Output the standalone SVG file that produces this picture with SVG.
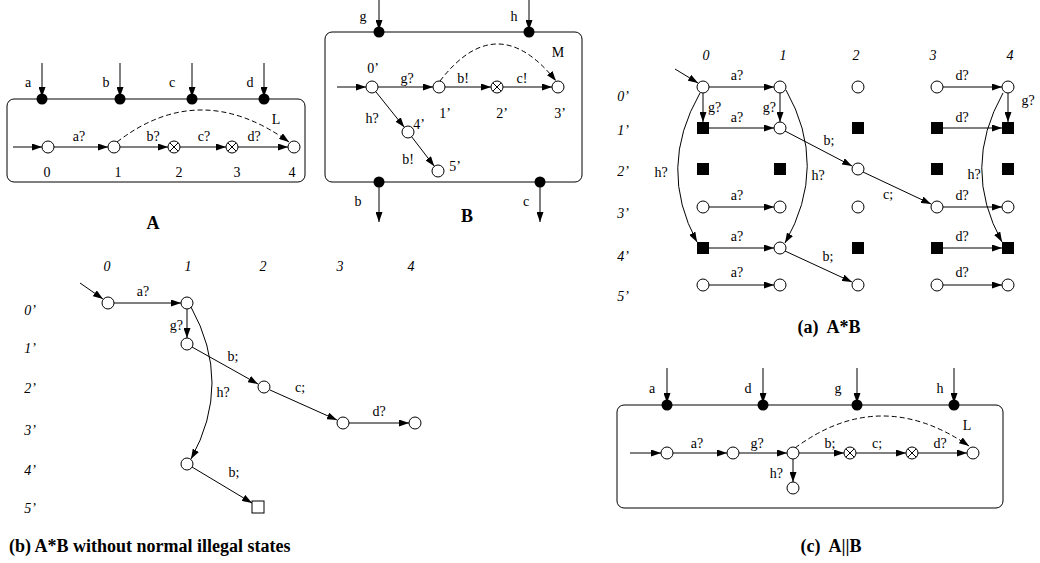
<svg xmlns="http://www.w3.org/2000/svg" width="1040" height="563" viewBox="0 0 1040 563">
<defs>
<marker id="ah" viewBox="0 0 10 7" refX="10" refY="3.5" markerWidth="10" markerHeight="7" orient="auto" markerUnits="userSpaceOnUse"><path d="M0,0 L10,3.5 L0,7 z" fill="#000"/></marker>
<g id="xc"><circle class="s" cx="0" cy="0" r="6"/><path class="x" d="M-4.2,-4.2 L4.2,4.2 M4.2,-4.2 L-4.2,4.2"/></g>
</defs>
<style>
.e{stroke:#000;stroke-width:1;fill:none;marker-end:url(#ah)}
.d{stroke:#000;stroke-width:1;fill:none;stroke-dasharray:5 3;marker-end:url(#ah)}
.s{fill:#fff;stroke:#000;stroke-width:1}
.x{stroke:#000;stroke-width:1;fill:none}
.bl{fill:#000}
.box{fill:none;stroke:#000;stroke-width:1}
.p{fill:#000}
text{font-family:"Liberation Serif","Times New Roman",serif;font-size:14px;fill:#000;text-anchor:middle}
.i{font-style:italic}
.cap{font-weight:bold;font-size:18px}
.st{text-anchor:start}
.en{text-anchor:end}
</style>
<rect width="1040" height="563" fill="#fff"/>

<!-- ===== Panel A ===== -->
<g id="A-box"><rect class="box" x="7" y="99" width="298" height="83" rx="7"/></g>
<g id="A-port-a"><circle class="p" cx="42" cy="99" r="5.5"/><text x="28" y="87">a</text></g>
<g id="A-port-b"><circle class="p" cx="120" cy="99" r="5.5"/><text x="106" y="87">b</text></g>
<g id="A-port-c"><circle class="p" cx="192" cy="99" r="5.5"/><text x="172" y="87">c</text></g>
<g id="A-port-d"><circle class="p" cx="264" cy="99" r="5.5"/><text x="250" y="87">d</text></g>
<g id="A-s0"><circle class="s" cx="48" cy="147" r="6"/><text x="47" y="177">0</text></g>
<g id="A-s1"><circle class="s" cx="114" cy="147" r="6"/><text x="118" y="177">1</text></g>
<g id="A-s2"><use href="#xc" x="174" y="147"/><text x="179" y="177">2</text></g>
<g id="A-s3"><use href="#xc" x="232" y="147"/><text x="237" y="177">3</text></g>
<g id="A-s4"><circle class="s" cx="294" cy="147" r="6"/><text x="292" y="177">4</text></g>
<text class="cap" x="153" y="229">A</text>

<!-- ===== Panel B ===== -->
<g id="B-box"><rect class="box" x="325" y="32" width="257" height="150" rx="7"/></g>
<g id="B-port-g"><circle class="p" cx="379" cy="32" r="5.5"/><text x="363" y="21">g</text></g>
<g id="B-port-h"><circle class="p" cx="529" cy="32" r="5.5"/><text x="514" y="21">h</text></g>
<g id="B-port-b"><circle class="p" cx="379" cy="182" r="5.5"/><text x="358" y="206">b</text></g>
<g id="B-port-c"><circle class="p" cx="540" cy="182" r="5.5"/><text x="526" y="206">c</text></g>
<g id="B-s0"><circle class="s" cx="372" cy="87" r="6"/><text x="373" y="73">0’</text></g>
<g id="B-s1"><circle class="s" cx="439" cy="87" r="6"/><text x="445" y="118">1’</text></g>
<g id="B-s2"><use href="#xc" x="497" y="87"/><text x="502" y="118">2’</text></g>
<g id="B-s3"><circle class="s" cx="558" cy="87" r="6"/><text x="560" y="118">3’</text></g>
<g id="B-s4"><circle class="s" cx="408" cy="132" r="6"/><text x="419" y="129">4’</text></g>
<g id="B-s5"><circle class="s" cx="438" cy="171" r="6"/><text x="455" y="171">5’</text></g>
<text class="cap" x="467" y="222">B</text>

<!-- ===== Panel (a) ===== -->
<g id="a-headers" class="i">
<text class="i" x="706" y="60">0</text><text class="i" x="783" y="60">1</text><text class="i" x="856" y="60">2</text><text class="i" x="933" y="60">3</text><text class="i" x="1010" y="60">4</text>
<text class="i" x="623" y="101">0’</text><text class="i" x="623" y="135">1’</text><text class="i" x="623" y="176">2’</text><text class="i" x="623" y="218">3’</text><text class="i" x="623" y="261">4’</text><text class="i" x="623" y="301">5’</text>
</g>
<!-- row 0' -->
<g id="a-0-0"><circle class="s" cx="703" cy="87" r="6"/></g>
<g id="a-1-0"><circle class="s" cx="780" cy="87" r="6"/></g>
<g id="a-2-0"><circle class="s" cx="858" cy="87" r="6"/></g>
<g id="a-3-0"><circle class="s" cx="937" cy="87" r="6"/></g>
<g id="a-4-0"><circle class="s" cx="1008" cy="87" r="6"/></g>
<!-- row 1' -->
<g id="a-0-1"><rect class="bl" x="697" y="122" width="12" height="12"/></g>
<g id="a-1-1"><circle class="s" cx="780" cy="128" r="6"/></g>
<g id="a-2-1"><rect class="bl" x="852" y="122" width="12" height="12"/></g>
<g id="a-3-1"><rect class="bl" x="931" y="122" width="12" height="12"/></g>
<g id="a-4-1"><rect class="bl" x="1002" y="122" width="12" height="12"/></g>
<!-- row 2' -->
<g id="a-0-2"><rect class="bl" x="697" y="163" width="12" height="12"/></g>
<g id="a-1-2"><rect class="bl" x="774" y="163" width="12" height="12"/></g>
<g id="a-2-2"><circle class="s" cx="858" cy="169" r="6"/></g>
<g id="a-3-2"><rect class="bl" x="931" y="163" width="12" height="12"/></g>
<g id="a-4-2"><rect class="bl" x="1002" y="163" width="12" height="12"/></g>
<!-- row 3' -->
<g id="a-0-3"><circle class="s" cx="703" cy="207" r="6"/></g>
<g id="a-1-3"><circle class="s" cx="780" cy="207" r="6"/></g>
<g id="a-2-3"><circle class="s" cx="858" cy="207" r="6"/></g>
<g id="a-3-3"><circle class="s" cx="937" cy="207" r="6"/></g>
<g id="a-4-3"><circle class="s" cx="1008" cy="207" r="6"/></g>
<!-- row 4' -->
<g id="a-0-4"><rect class="bl" x="697" y="242" width="12" height="12"/></g>
<g id="a-1-4"><circle class="s" cx="780" cy="248" r="6"/></g>
<g id="a-2-4"><rect class="bl" x="852" y="242" width="12" height="12"/></g>
<g id="a-3-4"><rect class="bl" x="931" y="242" width="12" height="12"/></g>
<g id="a-4-4"><rect class="bl" x="1002" y="242" width="12" height="12"/></g>
<!-- row 5' -->
<g id="a-0-5"><circle class="s" cx="703" cy="285" r="6"/></g>
<g id="a-1-5"><circle class="s" cx="780" cy="285" r="6"/></g>
<g id="a-2-5"><circle class="s" cx="858" cy="285" r="6"/></g>
<g id="a-3-5"><circle class="s" cx="937" cy="285" r="6"/></g>
<g id="a-4-5"><circle class="s" cx="1008" cy="285" r="6"/></g>
<text class="cap" x="829" y="333" xml:space="preserve">(a)  A*B</text>

<!-- ===== Panel (b) ===== -->
<g id="b-headers">
<text class="i" x="107" y="271">0</text><text class="i" x="188" y="271">1</text><text class="i" x="263" y="271">2</text><text class="i" x="340" y="271">3</text><text class="i" x="411" y="271">4</text>
<text class="i" x="30" y="315">0’</text><text class="i" x="30" y="353">1’</text><text class="i" x="30" y="393">2’</text><text class="i" x="30" y="435">3’</text><text class="i" x="30" y="475">4’</text><text class="i" x="30" y="513">5’</text>
</g>
<g id="b-0-0"><circle class="s" cx="108" cy="303" r="6"/></g>
<g id="b-1-0"><circle class="s" cx="187" cy="303" r="6"/></g>
<g id="b-1-1"><circle class="s" cx="187" cy="344" r="6"/></g>
<g id="b-2-2"><circle class="s" cx="264" cy="387" r="6"/></g>
<g id="b-3-3"><circle class="s" cx="343" cy="423" r="6"/></g>
<g id="b-4-3"><circle class="s" cx="415" cy="423" r="6"/></g>
<g id="b-1-4"><circle class="s" cx="187" cy="464" r="6"/></g>
<g id="b-2-5"><rect class="s" x="252" y="501" width="12" height="12"/></g>
<text class="cap st" x="9" y="552">(b) A*B without normal illegal states</text>

<!-- ===== Panel (c) ===== -->
<g id="c-box"><rect class="box" x="617" y="405" width="386" height="103" rx="7"/></g>
<g id="c-port-a"><circle class="p" cx="667" cy="405" r="5.5"/><text x="652" y="393">a</text></g>
<g id="c-port-d"><circle class="p" cx="763" cy="405" r="5.5"/><text x="748" y="393">d</text></g>
<g id="c-port-g"><circle class="p" cx="857" cy="405" r="5.5"/><text x="838" y="393">g</text></g>
<g id="c-port-h"><circle class="p" cx="954" cy="405" r="5.5"/><text x="940" y="393">h</text></g>
<g id="c-s0"><circle class="s" cx="667" cy="453" r="6"/></g>
<g id="c-s1"><circle class="s" cx="733" cy="453" r="6"/></g>
<g id="c-s2"><circle class="s" cx="793" cy="453" r="6"/></g>
<g id="c-s3"><use href="#xc" x="850" y="453"/></g>
<g id="c-s4"><use href="#xc" x="912" y="453"/></g>
<g id="c-s5"><circle class="s" cx="973" cy="453" r="6"/></g>
<g id="c-s6"><circle class="s" cx="793" cy="488" r="6"/></g>
<text class="cap" x="831" y="552" xml:space="preserve">(c)  A||B</text>

<!-- ===== Connectors ===== -->
<g id="connectors">
<!-- A -->
<path class="e" d="M42,63 V97"/><path class="e" d="M120,63 V97"/><path class="e" d="M192,63 V97"/><path class="e" d="M264,63 V97"/>
<path class="e" d="M13,147 H42"/>
<path class="e" d="M54,147 H108"/><text x="79" y="141">a?</text>
<path class="e" d="M120,147 H168"/><text x="153" y="141">b?</text>
<path class="e" d="M180,147 H226"/><text x="204" y="141">c?</text>
<path class="e" d="M238,147 H288"/><text x="254" y="141">d?</text>
<path class="d" d="M117,142 Q200,78 289,142"/><text x="276" y="124">L</text>
<!-- B -->
<path class="e" d="M379,0 V30"/><path class="e" d="M529,0 V30"/>
<path class="e" d="M379,182 V222"/><path class="e" d="M540,182 V222"/>
<path class="e" d="M337,87 H366"/>
<path class="e" d="M378,87 H433"/><text x="407" y="83">g?</text>
<path class="e" d="M445,87 H491"/><text x="463" y="83">b!</text>
<path class="e" d="M503,87 H552"/><text x="522" y="83">c!</text>
<path class="e" d="M375.8,91.7 L404.3,127.3"/><text x="372" y="123">h?</text>
<path class="e" d="M411.7,136.8 L434.3,166.2"/><text x="408" y="164">b!</text>
<path class="d" d="M440,81 Q497,7 556,81"/><text x="558" y="57">M</text>
<!-- (a) -->
<path class="e" d="M675,69 L698,83"/>
<path class="e" d="M709,87 H774"/><text x="737" y="80">a?</text>
<path class="e" d="M703,93 V122"/><text class="st" x="708" y="112">g?</text>
<path class="e" d="M780,93 V122"/><text class="en" x="776" y="112">g?</text>
<path class="e" d="M709,128 H774"/><text x="737" y="122">a?</text>
<path class="e" d="M700,93 Q657,168 697,242"/><text x="661" y="177">h?</text>
<path class="e" d="M786,90 Q829,166 785,243"/><text x="818" y="180">h?</text>
<path class="e" d="M785,131 L852,166"/><text x="829" y="145">b;</text>
<path class="e" d="M863,172 L931,204"/><text x="888" y="199">c;</text>
<path class="e" d="M709,207 H774"/><text x="737" y="200">a?</text>
<path class="e" d="M943,207 H1002"/><text x="962" y="200">d?</text>
<path class="e" d="M709,248 H774"/><text x="737" y="241">a?</text>
<path class="e" d="M785,251 L852,282"/><text x="828" y="261">b;</text>
<path class="e" d="M709,285 H774"/><text x="737" y="277">a?</text>
<path class="e" d="M943,87 H1002"/><text x="962" y="80">d?</text>
<path class="e" d="M1008,93 V122"/><text x="1028" y="105">g?</text>
<path class="e" d="M943,128 H1002"/><text x="962" y="122">d?</text>
<path class="e" d="M1003,93 Q961,168 1002,242"/><text x="974" y="179">h?</text>
<path class="e" d="M943,248 H1002"/><text x="962" y="241">d?</text>
<path class="e" d="M943,285 H1002"/><text x="962" y="277">d?</text>
<!-- (b) -->
<path class="e" d="M80,283 L103,299"/>
<path class="e" d="M114,303 H181"/><text x="143" y="296">a?</text>
<path class="e" d="M187,309 V338"/><text class="en" x="183" y="330">g?</text>
<path class="e" d="M192,347 L258,384"/><text x="233" y="361">b;</text>
<path class="e" d="M270,390 L337,420"/><text x="300" y="392">c;</text>
<path class="e" d="M349,423 H409"/><text x="379" y="416">d?</text>
<path class="e" d="M191,307 Q233,383 191,459"/><text x="223" y="397">h?</text>
<path class="e" d="M192,467 L252,503"/><text x="234" y="477">b;</text>
<!-- (c) -->
<path class="e" d="M667,368 V403"/><path class="e" d="M763,368 V403"/><path class="e" d="M857,368 V403"/><path class="e" d="M954,368 V403"/>
<path class="e" d="M630,453 H661"/>
<path class="e" d="M673,453 H727"/><text x="697" y="448">a?</text>
<path class="e" d="M739,453 H787"/><text x="757" y="448">g?</text>
<path class="e" d="M799,453 H844"/><text x="830" y="448">b;</text>
<path class="e" d="M856,453 H906"/><text x="877" y="448">c;</text>
<path class="e" d="M918,453 H967"/><text x="940" y="448">d?</text>
<path class="e" d="M793,459 V482"/><text class="en" x="783" y="478">h?</text>
<path class="d" d="M795,448 Q880,385 969,446"/><text x="967" y="430">L</text>
</g>
</svg>
